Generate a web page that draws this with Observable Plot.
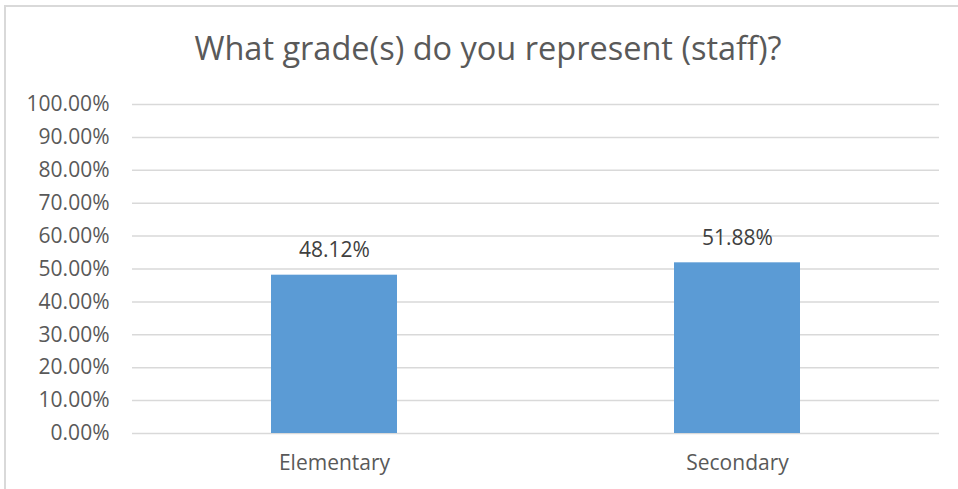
<!DOCTYPE html>
<html>
<head>
<meta charset="utf-8">
<script src="https://cdn.jsdelivr.net/npm/d3@7"></script>
<script src="https://cdn.jsdelivr.net/npm/@observablehq/plot@0.6"></script>
<style>
  html, body { margin: 0; padding: 0; background: #fff; }
  #wrap { position: relative; width: 958px; height: 489px; overflow: hidden; background: #fff; }
  #frame { position: absolute; left: 4px; top: 5px; right: -10px; bottom: -10px;
           border-left: 2px solid #d9d9d9; border-top: 2px solid #d9d9d9; }
  #title { position: absolute; left: 0; width: 976px; top: 26px; text-align: center;
           font-family: "Open Sans", sans-serif; font-size: 32.5px; color: #595959; line-height: 44px; }
  #chart { position: absolute; left: 0; top: 70px; }
</style>
</head>
<body>
<div id="wrap">
  <div id="frame"></div>
  <div id="title">What grade(s) do you represent (staff)?</div>
  <div id="chart"></div>
</div>
<script>
const categories = ["Elementary", "Secondary"];
const values = [0.4812, 0.5188];
const yTicks = [0, 0.1, 0.2, 0.3, 0.4, 0.5, 0.6, 0.7, 0.8, 0.9, 1.0];

const data = categories.map((c, i) => ({category: c, value: values[i]}));
const pct = v => (v * 100).toFixed(2) + "%";

const chart = Plot.plot({
  width: 958,
  height: 419,
  marginLeft: 132,
  marginRight: 19,
  marginTop: 34,
  marginBottom: 56,
  x: {domain: categories, paddingInner: 0.688, paddingOuter: 0.344, label: null, tickSize: 0, tickPadding: 22},
  y: {domain: [0, 1], ticks: yTicks, tickFormat: pct, label: null, tickSize: 0, tickPadding: 23},
  marks: [
    Plot.gridY(yTicks, {stroke: "#d9d9d9", strokeOpacity: 1, strokeWidth: 1.5}),
    Plot.barY(data, {x: "category", y: "value", fill: "#5B9BD5"}),
    Plot.text(data, {x: "category", y: "value", text: d => pct(d.value), dy: -25, fill: "#404040", fontSize: 21})
  ],
  style: {fontFamily: "Open Sans, sans-serif", fontSize: "21px", color: "#595959", background: "transparent", overflow: "visible"}
});
document.getElementById("chart").appendChild(chart);
</script>
</body>
</html>
